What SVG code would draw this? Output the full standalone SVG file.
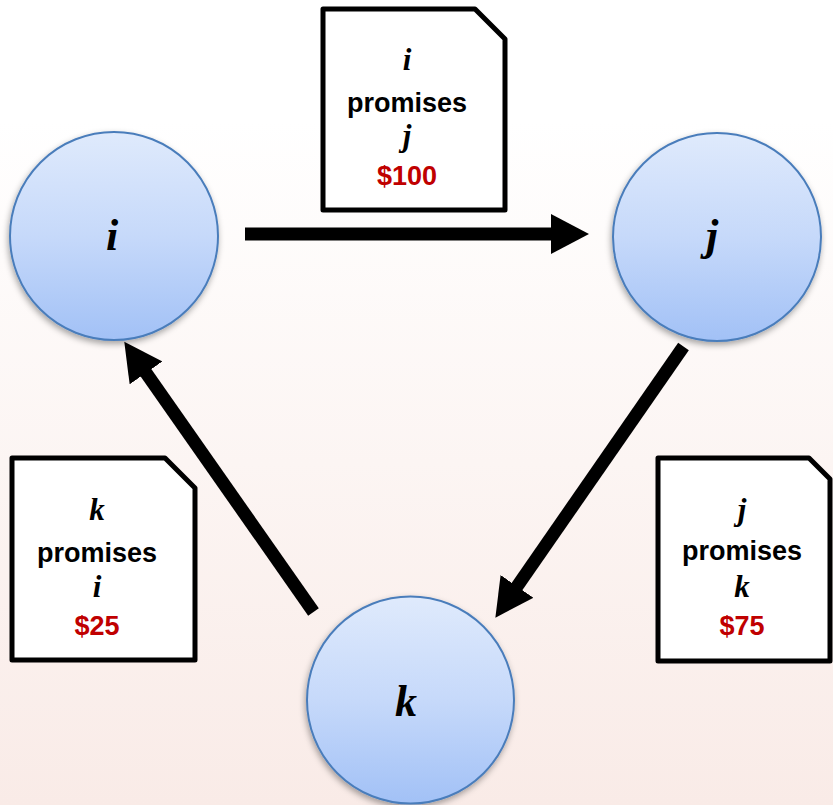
<svg xmlns="http://www.w3.org/2000/svg" width="833" height="805" viewBox="0 0 833 805">
  <defs>
    <linearGradient id="bg" x1="0" y1="0" x2="0" y2="1">
      <stop offset="0" stop-color="#ffffff"/>
      <stop offset="0.15" stop-color="#ffffff"/>
      <stop offset="1" stop-color="#f9ebe7"/>
    </linearGradient>
    <linearGradient id="nodeFill" x1="0" y1="0" x2="0" y2="1">
      <stop offset="0" stop-color="#dfeafc"/>
      <stop offset="0.5" stop-color="#c6d9fa"/>
      <stop offset="1" stop-color="#a2c1f6"/>
    </linearGradient>
    <filter id="shadow" x="-20%" y="-20%" width="140%" height="140%">
      <feDropShadow dx="-1" dy="3" stdDeviation="3" flood-color="#000000" flood-opacity="0.35"/>
    </filter>
    <marker id="head" viewBox="0 0 40 40" refX="2" refY="20" markerWidth="40" markerHeight="40" markerUnits="userSpaceOnUse" orient="auto">
      <path d="M0,0 L38,20 L0,40 Z" fill="#000"/>
    </marker>
  </defs>
  <style>
    .node circle { fill: url(#nodeFill); stroke: #4a7dbb; stroke-width: 2; filter: url(#shadow); }
    .node text { font-family: "Liberation Serif", "DejaVu Serif", serif; font-style: italic; font-weight: bold; font-size: 44px; text-anchor: middle; fill: #000; }
    .note path { fill: #ffffff; stroke: #000; stroke-width: 5; stroke-linejoin: round; }
    .note text { text-anchor: middle; fill: #000; }
    .var { font-family: "Liberation Serif", "DejaVu Serif", serif; font-style: italic; font-weight: bold; font-size: 31px; }
    .word { font-family: "Liberation Sans", Arial, sans-serif; font-weight: bold; font-size: 27px; }
    .amt { font-family: "Liberation Sans", Arial, sans-serif; font-weight: bold; font-size: 27px; fill: #c00000 !important; }
    .conn line { stroke: #000; stroke-width: 13; marker-end: url(#head); }
  </style>

  <rect x="0" y="0" width="833" height="805" fill="url(#bg)"/>

  <!-- connectors -->
  <g id="connectors" class="conn">
    <line x1="245" y1="234" x2="553" y2="234"/>
    <line x1="683.5" y1="346.5" x2="515.9" y2="588.1"/>
    <line x1="313.5" y1="612" x2="144.9" y2="371.2"/>
  </g>

  <!-- nodes -->
  <g id="node-i" class="node">
    <circle cx="114" cy="236" r="104"/>
    <text x="112" y="250">i</text>
  </g>
  <g id="node-j" class="node">
    <circle cx="717" cy="237" r="104"/>
    <text x="712" y="250">j</text>
  </g>
  <g id="node-k" class="node">
    <circle cx="410.5" cy="700" r="103.5"/>
    <text x="406" y="716">k</text>
  </g>

  <!-- promise notes -->
  <g id="note-ij" class="note">
    <path d="M323,9 H475 L505,39 V210 H323 Z"/>
    <text class="var" x="407" y="70">i</text>
    <text class="word" x="407" y="112">promises</text>
    <text class="var" x="407" y="146">j</text>
    <text class="amt" x="407" y="185">$100</text>
  </g>
  <g id="note-ki" class="note">
    <path d="M12,458 H165 L195,488 V660 H12 Z"/>
    <text class="var" x="97" y="520">k</text>
    <text class="word" x="97" y="562">promises</text>
    <text class="var" x="97" y="597">i</text>
    <text class="amt" x="97" y="635">$25</text>
  </g>
  <g id="note-jk" class="note">
    <path d="M658,458 H809 L830,479 V661 H658 Z"/>
    <text class="var" x="742" y="520">j</text>
    <text class="word" x="742" y="560">promises</text>
    <text class="var" x="742" y="597">k</text>
    <text class="amt" x="742" y="635">$75</text>
  </g>
</svg>
